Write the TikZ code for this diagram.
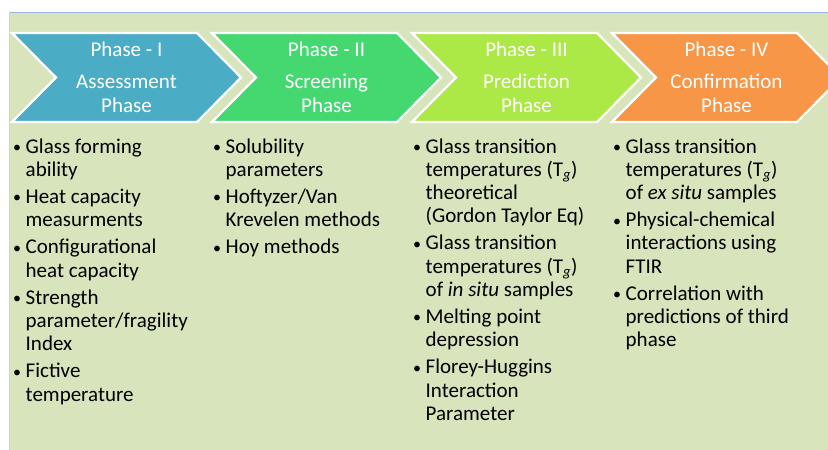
\documentclass[tikz,border=0pt]{standalone}
\usepackage{fontspec}
\setmainfont{Carlito}
\definecolor{bgc}{RGB}{216,228,188}
\definecolor{edgeblue}{RGB}{150,180,225}
\definecolor{edgegray}{RGB}{205,212,225}
\definecolor{phA}{RGB}{75,172,198}
\definecolor{phB}{RGB}{70,216,112}
\definecolor{phC}{RGB}{172,232,70}
\definecolor{phD}{RGB}{247,150,70}
\newcommand\bul{\makebox[12.5pt][l]{\raisebox{0.5pt}{\fontsize{16}{16}\selectfont •}}}
\newcommand\itm{\par\noindent\hangindent=12.5pt\hangafter=1\bul}
\newcommand\colbox[1]{\vtop{\hsize=200pt\parindent=0pt\parskip=4pt\fontsize{21}{23.2}\selectfont #1\par}}
\newcommand\headbox[2]{\vtop{\hsize=180pt\centering\fontsize{21}{24}\selectfont #1\par\vskip 8pt #2\par}}
\newcommand\Tg{T\textsubscript{\itshape g}}
\tikzset{
  chev/.style={draw=white, line width=2.2pt, line join=miter},
  headtxt/.style={anchor=base, inner sep=0pt, text=white},
  coltxt/.style={anchor=base west, inner sep=0pt, text=black},
}
\newcommand\chevron[2]{%
  \filldraw[chev, fill=#2] (#1,33) -- ++(185,0) -- ++(44,44.5) -- ++(-44,44.5) -- ++(-185,0) -- ++(44,-44.5) -- cycle;}
\begin{document}
\begin{tikzpicture}[x=1pt,y=-1pt]
\useasboundingbox (0,0) rectangle (828,450);
\clip (0,0) rectangle (828,450);
\fill[white] (0,0) rectangle (828,450);
\fill[bgc] (9,12) rectangle (830,452);
\draw[edgeblue, line width=1pt] (9,12) -- (830,12);
\draw[edgegray, line width=0.8pt] (9,12) -- (9,452);
% chevrons
\chevron{12}{phA}
\chevron{212}{phB}
\chevron{412}{phC}
\chevron{612}{phD}
% headings
\node[headtxt] (h1) at (126.5,56) {\headbox{Phase - I}{Assessment\\Phase}};
\node[headtxt] (h2) at (326.5,56) {\headbox{Phase - II}{Screening\\Phase}};
\node[headtxt] (h3) at (526.5,56) {\headbox{Phase - III}{Prediction\\Phase}};
\node[headtxt] (h4) at (726.5,56) {\headbox{Phase - IV}{Confirmation\\Phase}};
% columns
\node[coltxt] (c1) at (13,153) {\colbox{%
\itm Glass forming\\ability
\itm Heat capacity\\measurments
\itm Configurational\\heat capacity
\itm Strength\\parameter/fragility\\Index
\itm Fictive\\temperature}};
\node[coltxt] (c2) at (213,153) {\colbox{%
\itm Solubility\\parameters
\itm Hoftyzer/Van\\Krevelen methods
\itm Hoy methods}};
\node[coltxt] (c3) at (413,153) {\colbox{%
\itm Glass transition\\temperatures (\Tg)\\theoretical\\(Gordon Taylor Eq)
\itm Glass transition\\temperatures (\Tg)\\of \textit{in situ} samples
\itm Melting point\\depression
\itm Florey-Huggins\\Interaction\\Parameter}};
\node[coltxt] (c4) at (613,153) {\colbox{%
\itm Glass transition\\temperatures (\Tg)\\of \textit{ex situ} samples
\itm Physical-chemical\\interactions using\\FTIR
\itm Correlation with\\predictions of third\\phase}};
\end{tikzpicture}
\end{document}
